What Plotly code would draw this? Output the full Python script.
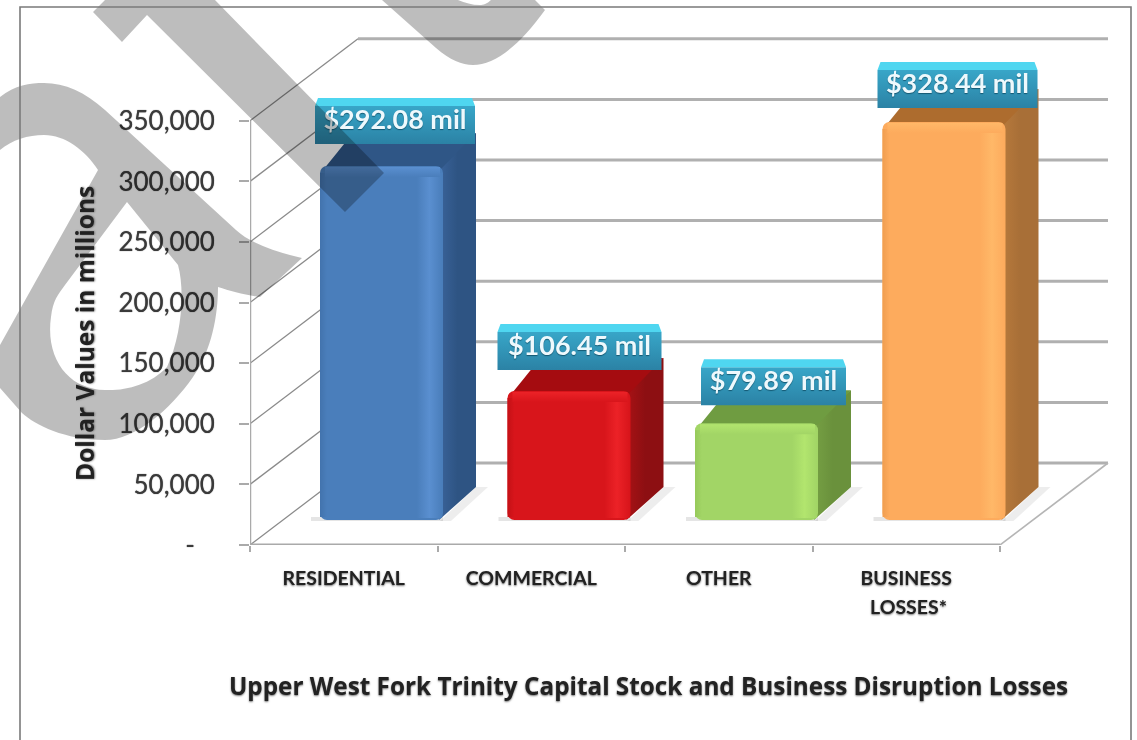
import re
import plotly.graph_objects as go

# ---------- data ----------
categories = ["RESIDENTIAL", "COMMERCIAL", "OTHER", "BUSINESS"]
values = [292080, 106450, 79890, 328440]
value_labels = ["$292.08 mil", "$106.45 mil", "$79.89 mil", "$328.44 mil"]
y_ticks = [0, 50000, 100000, 150000, 200000, 250000, 300000, 350000]
y_tick_labels = ["-\u00a0\u00a0\u00a0", "50,000", "100,000", "150,000", "200,000", "250,000", "300,000", "350,000"]

# ---------- styles ----------
main_col = ["#4a7ebb", "#d8151b", "#a2d566", "#fdab5d"]
hi_col = ["#5a8fd0", "#ec2227", "#b2e56e", "#ffb868"]
edge_col = ["#4273ad", "#c41116", "#96c95a", "#f09e50"]
side_col = ["#2e5483", "#8d0f12", "#6a913c", "#a86f37"]
side_edge = ["#3a639a", "#a81215", "#76a044", "#b87a3c"]
top_col = ["#2f5686", "#a50c10", "#6f9c41", "#ad6c2e"]
label_gap_px = [22, 21, 18, 14]
label_w_px = [160, 164, 145, 160]
label_shift_px = [13.5, 10.5, 17, 13.5]

W, H = 1137, 740
L, B = 250, 195
PX_X = 1 / 187.5       # x data units per pixel
PX_Y = 50000 / 60.6    # y data units per pixel
depth_x, depth_y = 108 * PX_X, 82 * PX_Y
bar_dx, bar_dy = 33 * PX_X, 33 * PX_Y
bar_base = 25 * PX_Y
bar_w = 123 * PX_X
bar_shift = 0.5 + 37.75 * PX_X

fig = go.Figure()


def poly(xs, ys, color=None, grad=None, z=1):
    kw = dict(fillcolor=color) if grad is None else dict(
        fillgradient=dict(type=grad[0], colorscale=[[i / (len(grad[1]) - 1), c] for i, c in enumerate(grad[1])]))
    fig.add_trace(go.Scatter(x=list(xs) + [xs[0]], y=list(ys) + [ys[0]], mode="lines", fill="toself",
                             line=dict(width=0), hoverinfo="skip", showlegend=False, zorder=z, **kw))


def line(xs, ys, color, width, z=0):
    fig.add_trace(go.Scatter(x=xs, y=ys, mode="lines", line=dict(color=color, width=width), cliponaxis=False,
                             hoverinfo="skip", showlegend=False, zorder=z))


# walls and floor
for t in y_ticks:
    line([depth_x, 4 + depth_x], [t + depth_y, t + depth_y], "#b0b0b0", 3)
    line([0, depth_x], [t, t + depth_y], "#8a8a8a", 1.3)
line([4, 4 + depth_x], [0, depth_y], "#b5b5b5", 1.6)
line([0, 0], [0, 350000], "#aaaaaa", 2.5)
line([0, 4], [0, 0], "#aaaaaa", 3.2)

# bars
cx = [i + bar_shift for i in range(len(values))]
for i, v in enumerate(values):
    x0, x1 = cx[i] - bar_w / 2, cx[i] + bar_w / 2
    b, t = bar_base, bar_base + v
    # floor shadow
    poly([x1 - 3 * PX_X, x1 + bar_dx, x1 + bar_dx + 12 * PX_X, x1 + 8 * PX_X],
         [b - 1 * PX_Y, b + bar_dy, b + bar_dy, b - 1 * PX_Y], "rgba(0,0,0,0.07)", z=1)
    poly([x0 - 9 * PX_X, x1, x1, x0 - 9 * PX_X], [b - 1 * PX_Y, b - 1 * PX_Y, b + 3 * PX_Y, b + 3 * PX_Y],
         "rgba(0,0,0,0.10)", z=1)
    # side and top faces (the side reaches under the top so that no seam shows)
    poly([x1 - 4 * PX_X, x1 + bar_dx, x1 + bar_dx, x1 - 4 * PX_X], [b, b + bar_dy, t + bar_dy, t + 6 * PX_Y],
         grad=("horizontal", [side_edge[i], side_col[i], side_col[i]]), z=2)
    poly([x0 + 3 * PX_X, x0 + bar_dx, x1 + bar_dx, x1 - 3 * PX_X], [t - 4 * PX_Y, t + bar_dy, t + bar_dy, t - 4 * PX_Y],
         top_col[i], z=2)
fig.add_trace(go.Bar(x=cx, y=values, base=bar_base, width=bar_w, marker=dict(color=main_col, cornerradius=7, line=dict(width=0)),
                     hoverinfo="skip", showlegend=False, zorder=3))
for i, v in enumerate(values):
    x0, x1 = cx[i] - bar_w / 2, cx[i] + bar_w / 2
    b, t = bar_base, bar_base + v
    # bevels on the front face
    poly([x1 - 26 * PX_X, x1 - 1 * PX_X, x1 - 1 * PX_X, x1 - 26 * PX_X], [b + 2 * PX_Y, b + 2 * PX_Y, t - 7 * PX_Y, t - 7 * PX_Y],
         grad=("horizontal", [main_col[i], hi_col[i], main_col[i]]), z=4)
    poly([x0, x0 + 7 * PX_X, x0 + 7 * PX_X, x0], [b + 3 * PX_Y, b + 3 * PX_Y, t - 7 * PX_Y, t - 7 * PX_Y],
         grad=("horizontal", [edge_col[i], main_col[i]]), z=4)
    poly([x0 + 5 * PX_X, x1 - 3 * PX_X, x1 - 3 * PX_X, x0 + 5 * PX_X], [t - 11 * PX_Y, t - 11 * PX_Y, t - 1 * PX_Y, t - 1 * PX_Y],
         grad=("vertical", [main_col[i], hi_col[i]]), z=4)
    # value label box
    lc = cx[i] + label_shift_px[i] * PX_X
    lw = label_w_px[i] * PX_X / 2
    ly = t + label_gap_px[i] * PX_Y
    poly([lc - lw, lc + lw, lc + lw, lc - lw], [ly, ly, ly + 38 * PX_Y, ly + 38 * PX_Y],
         grad=("vertical", ["#2b82a5", "#38a6c8"]), z=5)
    poly([lc - lw, lc + lw, lc + lw - 3 * PX_X, lc - lw + 3 * PX_X], [ly + 38 * PX_Y, ly + 38 * PX_Y, ly + 46 * PX_Y, ly + 46 * PX_Y],
         "#4fd6f0", z=5)
    fig.add_trace(go.Scatter(x=[lc], y=[ly + 22 * PX_Y], mode="text", text=[value_labels[i]],
                             textfont=dict(family="Lato", size=27, color="#eef9fd", weight="bold", shadow="0 1px 1px rgba(0,50,70,0.6)"),
                             hoverinfo="skip", showlegend=False, zorder=6))


# ---------- watermark & frame (decoration, page pixels) ----------
def px(x, y):
    return (x - L) / (W - L), (H - B - y) / (H - B)


def to_paper(path):
    def conv(m):
        a, b = px(float(m[1]), float(m[2]))
        return f"{a:.5f},{b:.5f}"
    return re.sub(r"(-?\d+\.?\d*),(-?\d+\.?\d*)", conv, path)


wm = [
    "M93,12 L105,0 L215,0 L384,173 L345,212 L147,15 L122,42 Z",
    "M0,97 C15,85 30,83 44,83 C65,83 85,92 105,110 L236,230 C250,243 275,252 302,258 L260,297 C245,295 230,291 218,287 "
    "C218,315 212,350 193,377 C170,410 135,440 105,440 C65,440 35,425 22,413 L0,388 L0,345 L98,170 C85,150 65,135 44,135 "
    "C28,135 12,140 0,150 Z "
    "M127,202 L178,265 C185,290 182,335 167,367 C150,385 125,391 105,390 C70,390 45,360 51,317 C53,300 58,295 65,285 Z",
    "M382,0 L436,48 C450,60 462,65 473,65 C495,65 520,45 545,10 L535,0 L491,0 C487,4 483,5 480,5 C472,5 465,3 458,0 Z",
]
shapes = [dict(type="path", xref="paper", yref="paper", path=to_paper(p), fillcolor="rgba(0,0,0,0.26)",
               line=dict(width=0), layer="above") for p in wm]
shapes.append(dict(type="path", xref="paper", yref="paper", path=to_paper("M20,741 L20,7 L1131,7 L1131,741"),
                   line=dict(color="#7a7a7a", width=1.6), layer="above"))

txt = dict(family="Lato", color="#222222", weight="bold", shadow="0 1px 2px #777")
wide = dict(family="Open Sans", color="#222222", weight="bold", shadow="0 1px 2px #777")
annotations = []
for text, (ax, ay), font in [
    ("LOSSES*", px(908, 606), dict(size=19.5, **txt)),
    ("Dollar Values in millions", px(85, 334), dict(size=24.5, **wide)),
    ("Upper West Fork Trinity Capital Stock and Business Disruption Losses", px(648, 685), dict(size=24.3, **wide)),
]:
    annotations.append(dict(x=ax, y=ay, xref="paper", yref="paper", xanchor="center", yanchor="middle", text=text,
                            textangle=-90 if text.startswith("Dollar") else 0, showarrow=False, font=font))

fig.update_layout(
    width=W, height=H, margin=dict(l=L, r=0, t=0, b=B, pad=0), paper_bgcolor="white", plot_bgcolor="rgba(0,0,0,0)",
    showlegend=False, hovermode=False, shapes=shapes, annotations=annotations,
    xaxis=dict(range=[0, (W - L) * PX_X], showgrid=False, zeroline=False, showline=False, fixedrange=True,
               tickmode="array", tickvals=[i + 0.5 for i in range(4)], ticktext=categories, ticks="",
               ticklabelstandoff=19, tickfont=dict(size=19.5, **txt),
               minor=dict(tickmode="array", tickvals=[0, 1, 2, 3, 4], ticks="outside", ticklen=6, tickcolor="#aaaaaa", tickwidth=1.5)),
    yaxis=dict(range=[0, (H - B) * PX_Y], showgrid=False, zeroline=False, showline=False, fixedrange=True,
               tickmode="array", tickvals=y_ticks, ticktext=y_tick_labels, ticks="outside", ticklen=10, tickcolor="#aaaaaa",
               tickwidth=1.5, ticklabelstandoff=19,
               tickfont=dict(family="Lato", size=26, color="#3a3a3a", shadow="0 0 1px #555")),
)
fig.write_html(
    "out.html",
    config=dict(displayModeBar=False),
    post_script="document.body.style.margin='0';document.documentElement.style.overflow='hidden';"
                "document.querySelectorAll('.cartesianlayer, .infolayer').forEach(function(e){e.style.filter='blur(0.6px)';});",
)
